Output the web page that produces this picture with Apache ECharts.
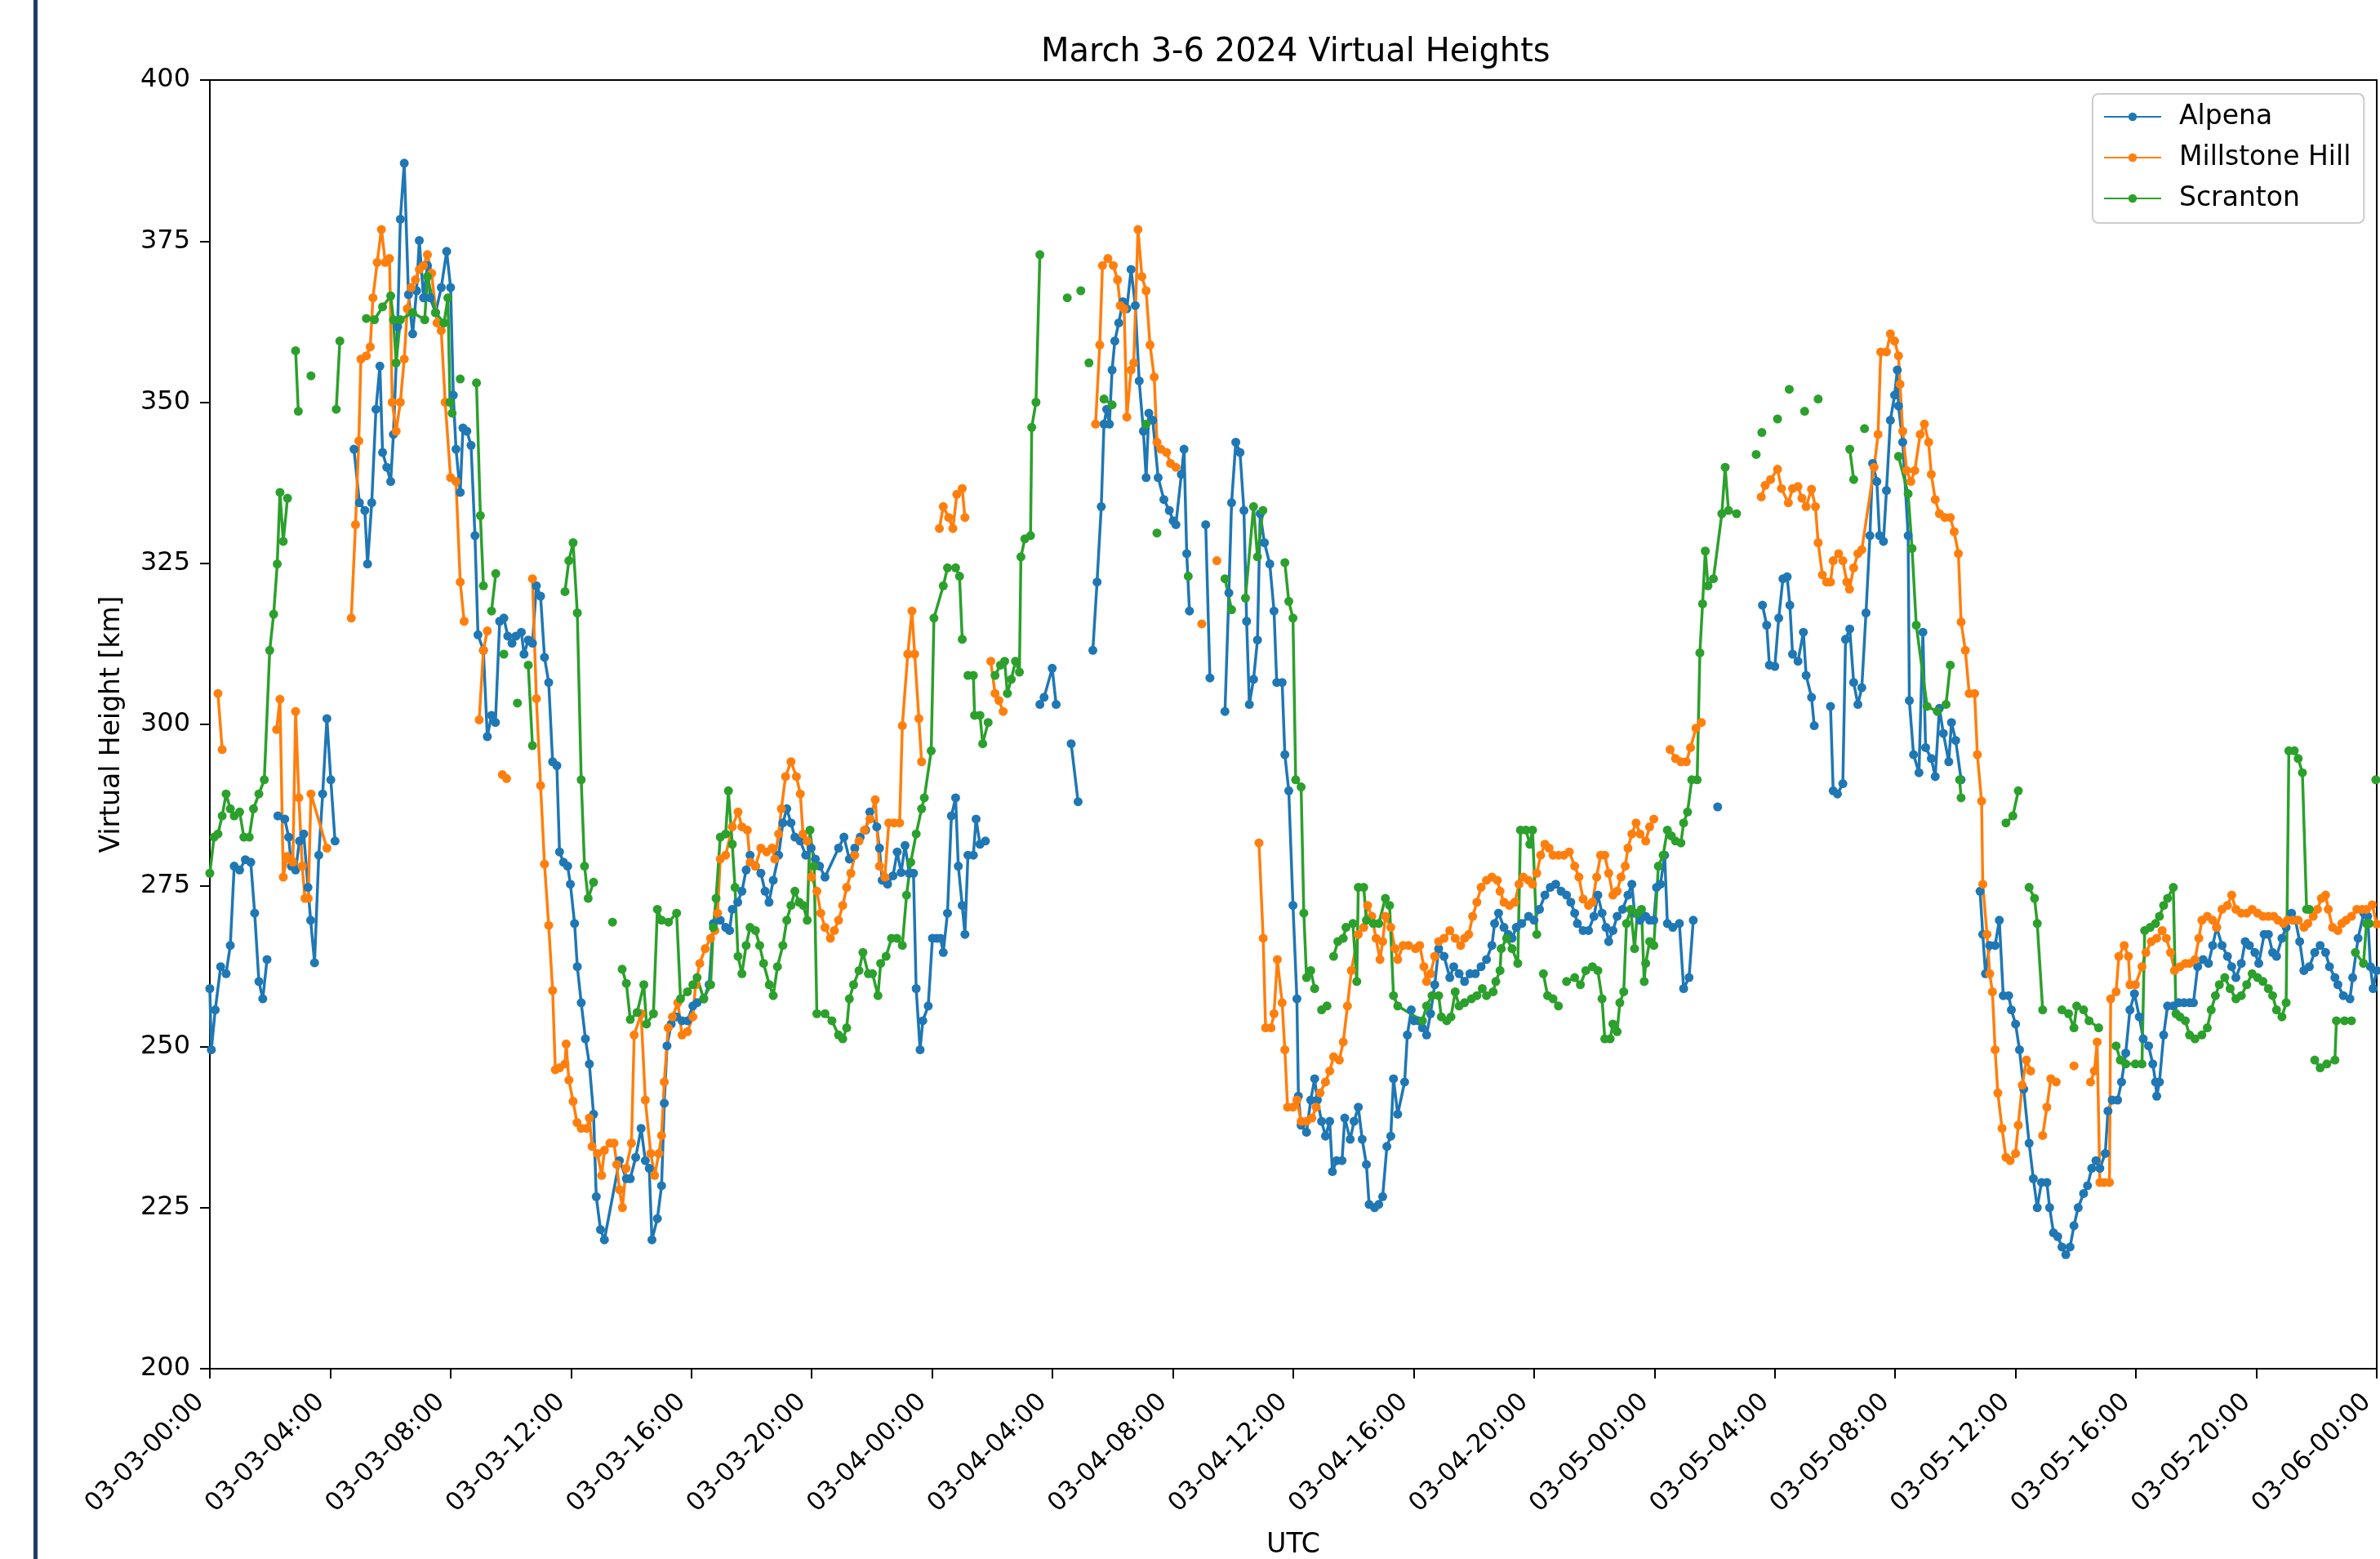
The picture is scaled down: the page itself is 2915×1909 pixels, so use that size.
<!DOCTYPE html>
<html>
<head>
<meta charset="utf-8">
<script src="https://cdn.jsdelivr.net/npm/echarts@6/dist/echarts.min.js"></script>
<style>
html,body{margin:0;padding:0;background:#fff;}
#chart{width:2915px;height:1909px;}
</style>
</head>
<body>
<div id="chart"></div>
<script>
// Hours since 2024-03-03 00:00 UTC, virtual height in km; [t, null] marks a gap
const xTickLabels = ['03-03-00:00','03-03-04:00','03-03-08:00','03-03-12:00','03-03-16:00','03-03-20:00',
  '03-04-00:00','03-04-04:00','03-04-08:00','03-04-12:00','03-04-16:00','03-04-20:00',
  '03-05-00:00','03-05-04:00','03-05-08:00','03-05-12:00','03-05-16:00','03-05-20:00','03-06-00:00'];
const yTicks = [200,225,250,275,300,325,350,375,400];
const seriesNames = ['Alpena','Millstone Hill','Scranton'];

const alpena = [[0,259],[0.05,249.5],[0.18,255.7],[0.36,262.4],[0.54,261.3],[0.68,265.7],[0.81,278],[0.99,277.4],[1.18,279],[1.36,278.6],[1.49,270.7],[1.63,260.1],[1.76,257.4],[1.9,263.5],[2.08,null],
[2.26,285.8],[2.49,285.3],[2.62,282.5],[2.71,278],[2.85,277.4],[2.98,281.9],[3.12,283],[3.26,274.7],[3.35,269.6],[3.48,263],[3.62,279.7],[3.75,289.2],[3.89,300.9],[4.02,291.4],[4.16,281.9],[4.5,null],
[4.79,342.7],[4.97,334.4],[5.15,333.2],[5.24,324.9],[5.38,334.4],[5.52,348.9],[5.65,355.6],[5.74,342.2],[5.88,339.9],[6.01,337.7],[6.1,345],[6.24,361.7],[6.33,378.4],[6.46,387.1],[6.6,366.7],[6.74,360.6],[6.87,367.3],[6.96,375.1],[7.1,366.2],[7.23,371.2],[7.32,366.2],[7.5,363.9],[7.69,367.8],[7.87,373.4],[8.0,367.8],[8.09,351.1],[8.18,342.7],[8.32,336],[8.41,346],[8.54,345.5],[8.68,343.3],[8.81,329.3],[8.91,313.9],[9.09,311.5],[9.22,298.1],[9.36,301.4],[9.49,300.3],[9.63,316],[9.77,316.5],[9.9,313.7],[10.04,312.6],[10.17,313.7],[10.35,314.3],[10.44,310.9],[10.58,313.1],[10.72,312.6],[10.85,321.5],[10.99,319.9],[11.12,310.4],[11.26,306.5],[11.39,294.2],[11.53,293.6],[11.62,280.2],[11.75,278.6],[11.89,278],[11.98,275.2],[12.12,269.1],[12.21,262.4],[12.34,256.8],[12.48,251.2],[12.61,247.3],[12.75,239.5],[12.84,226.7],[12.98,221.6],[13.11,220],[13.61,232.3],[13.84,229.5],[13.97,229.5],[14.15,232.8],[14.33,237.3],[14.47,232.3],[14.6,231.1],[14.69,220],[14.87,223.3],[15.01,228.4],[15.1,241.2],[15.19,250.1],[15.33,253.5],[15.51,254.6],[15.69,254],[15.87,254],[16.05,256.3],[16.19,256.8],[16.41,257.4],[16.59,259.6],[16.73,269.1],[16.96,269.6],[17.14,268.5],[17.27,268],[17.36,271.3],[17.54,272.4],[17.68,274.1],[17.82,277.4],[17.95,279.7],[18.13,278],[18.31,276.9],[18.45,274.1],[18.58,272.4],[18.72,275.8],[18.9,279.7],[19.04,284.7],[19.17,286.9],[19.31,284.7],[19.44,282.5],[19.62,281.9],[19.8,279.7],[19.98,280.8],[20.12,279.1],[20.26,278],[20.44,276.3],[20.89,280.8],[21.07,282.5],[21.25,279.1],[21.43,280.8],[21.61,282.5],[21.79,283.6],[21.93,286.4],[22.16,284.1],[22.25,280.8],[22.34,275.8],[22.52,275.2],[22.7,276.5],[22.84,280.2],[22.97,277],[23.1,281.2],[23.24,276.9],[23.38,276.9],[23.47,259],[23.6,249.5],[23.69,254],[23.87,256.3],[24.01,266.8],[24.15,266.8],[24.28,266.8],[24.37,264.6],[24.51,270.7],[24.64,285.8],[24.78,288.6],[24.87,278],[25.0,271.9],[25.09,267.4],[25.19,279.7],[25.37,279.7],[25.46,285.3],[25.59,281.4],[25.77,281.9],[26.5,null],
[27.58,303.1],[27.72,304.2],[27.99,308.7],[28.12,303.1],[28.4,null],[28.62,297],[28.85,288],[29.1,null],
[29.34,311.5],[29.48,322.1],[29.62,333.8],[29.71,346.6],[29.8,348.9],[29.89,346.6],[29.98,355],[30.07,359.5],[30.2,362.3],[30.34,365.6],[30.47,364.5],[30.61,370.6],[30.75,365],[30.88,353.3],[31.02,345.5],[31.11,338.3],[31.2,348.3],[31.33,347.2],[31.51,338.3],[31.7,334.9],[31.88,333.2],[32.01,331.6],[32.1,331],[32.28,338.8],[32.37,342.7],[32.46,326.5],[32.55,317.6],[32.8,null],[33.09,331],[33.23,307.2],[33.5,null],
[33.73,302],[33.86,320.4],[33.95,334.4],[34.09,343.8],[34.23,342.2],[34.36,333.2],[34.45,316],[34.54,303.1],[34.68,307],[34.81,313.1],[34.9,332.7],[35.04,328.2],[35.22,324.9],[35.36,317.6],[35.45,306.5],[35.63,306.5],[35.72,295.3],[35.85,289.7],[35.99,271.9],[36.12,257.4],[36.17,242.3],[36.26,237.8],[36.44,236.7],[36.58,241.7],[36.71,245],[36.8,241.7],[36.94,238.4],[37.07,236.1],[37.21,238.4],[37.3,230.6],[37.44,232.3],[37.62,232.3],[37.71,238.9],[37.89,235.6],[38.02,238.4],[38.16,240.6],[38.29,235.6],[38.43,231.7],[38.52,225.5],[38.7,225],[38.84,225.5],[38.97,226.7],[39.11,234.5],[39.24,236.1],[39.33,245],[39.47,239.5],[39.7,244.5],[39.79,251.8],[39.92,255.7],[40.01,254],[40.16,254],[40.29,252.9],[40.43,251.8],[40.56,255.1],[40.7,259.6],[40.83,265.2],[41.01,264],[41.2,260.7],[41.33,262.4],[41.51,261.3],[41.69,260.1],[41.87,261.3],[42.05,261.3],[42.24,262.4],[42.42,263.5],[42.6,265.7],[42.69,269.1],[42.82,270.7],[43.0,268.5],[43.14,267.4],[43.27,266.8],[43.41,268.5],[43.59,269.1],[43.82,270.2],[44.0,269.6],[44.18,271.3],[44.36,273.5],[44.54,274.7],[44.72,275.2],[44.9,274.1],[45.08,273.5],[45.22,272.4],[45.35,270.7],[45.44,269.1],[45.63,268],[45.81,268],[45.99,270.2],[46.12,273.5],[46.26,270.7],[46.39,268.5],[46.48,266.3],[46.62,268],[46.76,270.2],[46.94,271.3],[47.12,273.5],[47.25,275.2],[47.34,270.7],[47.52,269.6],[47.71,270.2],[47.84,269.6],[47.98,269.6],[48.07,274.7],[48.2,275.2],[48.34,279.7],[48.43,269.1],[48.61,268.5],[48.83,269.1],[48.97,259],[49.15,260.7],[49.29,269.6],[49.7,null],[50.1,287.2],[50.5,null],
[51.59,318.5],[51.73,315.4],[51.82,309.2],[52.0,309],[52.13,316.5],[52.27,322.6],[52.41,322.9],[52.5,318.5],[52.59,310.9],[52.77,309.8],[52.95,314.3],[53.04,307.6],[53.22,304.2],[53.31,299.8],[53.6,null],
[53.85,302.8],[53.94,289.7],[54.08,289.2],[54.26,290.8],[54.35,313.2],[54.49,314.8],[54.62,306.5],[54.76,303.1],[54.89,305.7],[55.03,317.3],[55.16,329.3],[55.25,340.5],[55.39,337.7],[55.48,329.3],[55.61,328.4],[55.71,336.3],[55.84,347.2],[55.98,351.1],[56.07,355],[56.11,349.4],[56.25,343.8],[56.43,329.3],[56.47,303.7],[56.61,295.3],[56.79,292.5],[56.92,314.3],[57.01,296.4],[57.2,294.7],[57.33,291.9],[57.47,302.5],[57.6,298.6],[57.78,294.2],[57.87,300.3],[58.01,297.5],[58.19,291.4],[58.5,null],
[58.82,274.1],[58.91,267.4],[59.0,261.3],[59.14,265.7],[59.32,265.7],[59.46,269.6],[59.59,257.9],[59.77,257.9],[59.86,255.7],[60.0,253.5],[60.13,249.5],[60.27,243.4],[60.45,235],[60.59,229.5],[60.72,225],[60.86,228.9],[61.04,228.9],[61.13,225],[61.26,221.1],[61.4,220.5],[61.54,218.9],[61.67,217.7],[61.81,218.9],[61.94,222.2],[62.08,225],[62.26,227.2],[62.39,228.4],[62.53,231.1],[62.67,232.3],[62.8,231.1],[62.98,233.4],[63.07,240],[63.21,241.7],[63.39,241.7],[63.52,244.5],[63.66,249],[63.8,255.7],[63.95,258.2],[64.11,254.6],[64.24,251.2],[64.42,250.1],[64.56,247.3],[64.65,244.5],[64.69,242.3],[64.78,244.5],[64.92,251.8],[65.05,256.3],[65.24,256.3],[65.42,256.8],[65.6,256.8],[65.78,256.8],[65.91,256.8],[66.05,262.4],[66.23,263.5],[66.41,262.9],[66.55,265.7],[66.68,268.5],[66.86,265.7],[67.04,264],[67.18,262.4],[67.32,260.7],[67.5,262.9],[67.63,266.3],[67.77,265.7],[67.95,264.6],[68.08,262.9],[68.26,267.4],[68.4,267.4],[68.54,264.6],[68.67,264],[68.85,266.8],[68.99,268.5],[69.17,270.7],[69.3,269.6],[69.44,266.3],[69.58,261.8],[69.76,262.4],[69.94,264.6],[70.12,265.7],[70.3,264.6],[70.43,262.4],[70.61,260.7],[70.71,259.6],[70.89,257.9],[71.11,257.4],[71.2,260.7],[71.38,266.8],[71.57,270.7],[71.7,270.2],[71.79,262.4],[71.88,259],[72,261.8]];

const millstone = [[0.27,304.8],[0.41,296.1],[1.2,null],
[2.22,299.2],[2.33,303.9],[2.44,276.3],[2.56,279.5],[2.69,279],[2.76,278.6],[2.85,302],[2.96,288.6],[3.07,278],[3.16,273],[3.27,273],[3.36,289.2],[3.89,280.8],[4.3,null],
[4.7,316.5],[4.84,331],[4.95,344],[5.02,356.7],[5.2,357.2],[5.33,358.6],[5.42,366.2],[5.56,371.7],[5.7,376.8],[5.83,371.7],[5.97,372.3],[6.06,350],[6.19,345.5],[6.33,350],[6.46,356.7],[6.56,364.5],[6.69,367.8],[6.83,369],[6.96,370.6],[7.1,371.2],[7.23,372.9],[7.37,370],[7.55,362.3],[7.69,361.1],[7.82,350],[8.0,338.3],[8.18,337.7],[8.32,322.1],[8.45,316],[8.7,null],
[8.95,300.7],[9.09,311.5],[9.22,314.5],[9.45,null],[9.72,292.2],[9.86,291.6],[10.3,null],
[10.72,322.6],[10.85,304],[10.99,290.5],[11.12,278.3],[11.26,268.8],[11.39,258.7],[11.48,246.4],[11.62,246.7],[11.8,247.3],[11.84,250.4],[11.93,244.8],[12.07,241.5],[12.2,238.2],[12.34,237.3],[12.52,237.3],[12.61,238.9],[12.7,234.5],[12.88,233.4],[13.02,230],[13.11,233.9],[13.29,235],[13.43,235],[13.52,231.7],[13.61,227.8],[13.71,225],[13.83,231.1],[14.01,235],[14.1,251.8],[14.33,255.1],[14.47,241.7],[14.65,233.4],[14.78,230],[14.92,233.4],[15.01,236.2],[15.1,244.5],[15.23,252.9],[15.37,254.6],[15.55,256.8],[15.69,251.8],[15.87,252.3],[16.05,254.6],[16.14,259.6],[16.28,262.9],[16.46,265.2],[16.64,266.8],[16.78,268],[16.87,270.7],[16.96,279.1],[17.14,279.7],[17.36,284.1],[17.55,286.4],[17.68,284.1],[17.86,283.6],[17.95,278.6],[18.13,278],[18.31,280.8],[18.5,280.2],[18.68,280.8],[18.77,279.1],[18.9,283],[18.99,286.9],[19.13,291.9],[19.31,294.2],[19.49,291.9],[19.62,289.2],[19.71,283],[19.85,281.9],[19.99,276.3],[20.17,274.1],[20.3,270.7],[20.44,268.5],[20.62,266.8],[20.75,268],[20.89,269.6],[21.03,271.9],[21.16,274.7],[21.3,276.9],[21.43,279.7],[21.57,281.9],[21.75,283.6],[21.93,285.3],[22.11,288.3],[22.25,278],[22.43,276.3],[22.56,284.7],[22.74,284.7],[22.92,284.7],[23.01,299.8],[23.19,310.9],[23.33,317.6],[23.42,310.9],[23.56,300.9],[23.65,294.2],[23.9,null],
[24.24,330.4],[24.37,333.8],[24.55,332.1],[24.69,330.4],[24.82,335.7],[25.0,336.6],[25.09,332.1],[25.5,null],
[25.95,309.8],[26.09,304.8],[26.22,303.7],[26.36,302],[27.5,null],
[29.43,346.6],[29.57,358.9],[29.66,371.2],[29.84,372.3],[30.02,371.2],[30.16,369],[30.25,365],[30.38,364.5],[30.47,347.7],[30.61,355],[30.7,356.1],[30.84,376.8],[30.97,369.5],[31.11,367.3],[31.24,358.9],[31.38,353.9],[31.47,343.8],[31.6,342.7],[31.79,342.2],[31.92,340.5],[32.1,339.9],[32.5,null],
[32.96,315.6],[33.2,null],[33.46,325.4],[34.2,null],
[34.86,281.6],[35.0,266.8],[35.08,252.9],[35.26,252.9],[35.36,255.1],[35.47,263.5],[35.63,256.8],[35.72,249.5],[35.81,240.6],[35.99,240.6],[36.12,241.7],[36.26,238.4],[36.44,238.4],[36.62,238.9],[36.76,240.6],[36.89,242.8],[37.07,244.5],[37.21,246.2],[37.34,248.4],[37.53,247.9],[37.66,250.7],[37.8,256.3],[37.93,261.8],[38.16,267.4],[38.34,268.5],[38.47,271.9],[38.61,270.2],[38.75,266.8],[38.88,263.5],[38.97,266.3],[39.06,270.2],[39.24,268.5],[39.38,265.2],[39.47,263.5],[39.65,265.7],[39.83,265.7],[40.06,265.2],[40.2,265.7],[40.34,262.4],[40.43,260.1],[40.56,261.3],[40.7,264],[40.83,266.3],[41.01,266.8],[41.2,268],[41.38,266.8],[41.56,265.7],[41.69,266.8],[41.83,267.4],[41.96,270.2],[42.1,272.4],[42.24,274.7],[42.42,275.8],[42.6,276.3],[42.78,275.8],[42.87,274.1],[43.0,272.4],[43.18,271.9],[43.36,272.4],[43.5,275.2],[43.64,276.3],[43.82,275.8],[43.95,275.2],[44.09,276.9],[44.22,279.7],[44.36,281.4],[44.5,280.8],[44.63,279.7],[44.81,279.7],[44.99,279.7],[45.17,280.2],[45.35,278],[45.49,276.3],[45.63,272.9],[45.81,271.9],[45.94,272.4],[46.08,276.3],[46.21,279.7],[46.35,279.7],[46.48,276.9],[46.62,273.5],[46.76,274.1],[46.89,276.3],[47.03,278],[47.12,280.8],[47.25,283],[47.39,284.7],[47.52,283],[47.71,281.9],[47.84,284.1],[47.98,285.3],[48.25,null],
[48.52,296.1],[48.7,294.7],[48.88,294.2],[49.06,294.2],[49.2,296.4],[49.38,299.4],[49.56,300.3],[50.5,null],
[51.55,335.3],[51.68,337.1],[51.86,338],[52.09,339.6],[52.22,336.6],[52.45,334.4],[52.59,336.6],[52.77,336.9],[52.9,335.1],[53.04,333.8],[53.22,336.5],[53.35,333.8],[53.44,328.2],[53.58,323.2],[53.72,322.1],[53.85,322.1],[53.94,325.4],[54.12,326.5],[54.26,325.4],[54.39,322.1],[54.48,321],[54.62,324.3],[54.76,326.5],[54.89,327.1],[55.3,339.9],[55.43,345],[55.52,357.8],[55.71,357.8],[55.84,360.6],[55.98,359.5],[56.11,357.2],[56.16,352.8],[56.25,345.5],[56.38,339.4],[56.52,337.7],[56.65,339.4],[56.83,345],[56.97,346.6],[57.11,343.8],[57.2,338.8],[57.33,334.9],[57.47,332.7],[57.65,332.1],[57.83,332.1],[57.96,329.9],[58.1,326.5],[58.19,315.9],[58.33,311.5],[58.46,304.8],[58.64,304.8],[58.73,295.3],[58.87,288.1],[58.91,275.2],[59.05,267.4],[59.14,261.3],[59.23,258.5],[59.32,249.5],[59.41,242.8],[59.55,237.3],[59.68,232.8],[59.82,232.3],[60.0,233.4],[60.09,237.8],[60.22,244],[60.36,247.9],[60.5,246.2],[60.7,null],
[60.9,236.2],[61.04,240.6],[61.17,245],[61.35,244.5],[61.6,null],[61.94,247],[62.2,null],
[62.49,244.5],[62.62,246.2],[62.71,250.7],[62.8,228.9],[62.94,228.9],[63.12,228.9],[63.16,257.4],[63.34,258.5],[63.43,264],[63.61,265.7],[63.75,264],[63.8,259.6],[63.98,259.6],[64.2,262.4],[64.33,264.6],[64.51,266.3],[64.69,266.8],[64.87,268],[65.01,266.8],[65.15,264.6],[65.28,261.8],[65.46,262.4],[65.64,262.9],[65.78,262.9],[65.96,263.5],[66.09,266.8],[66.19,269.6],[66.37,270.2],[66.55,269.6],[66.68,268.5],[66.86,271.3],[67.04,271.9],[67.18,273.5],[67.32,271.3],[67.5,270.7],[67.68,270.7],[67.86,271.3],[68.04,270.7],[68.22,270.2],[68.4,270.2],[68.58,270.2],[68.72,269.6],[68.9,269.1],[69.03,269.6],[69.21,269.6],[69.39,269.6],[69.58,268.5],[69.71,269.1],[69.89,270.2],[70.03,271.3],[70.16,273],[70.3,273.5],[70.39,271.3],[70.53,268.5],[70.71,268],[70.84,269.1],[70.98,269.6],[71.16,270.2],[71.34,271.3],[71.52,271.3],[71.66,271.3],[71.85,272],[72,269]];

const scranton = [[0,276.9],[0.14,282.5],[0.27,283],[0.41,285.8],[0.54,289.2],[0.68,286.9],[0.81,285.8],[0.99,286.4],[1.13,282.5],[1.31,282.5],[1.45,286.9],[1.63,289.2],[1.81,291.4],[1.99,311.5],[2.12,317.1],[2.24,324.9],[2.33,336],[2.44,328.4],[2.58,335.1],[2.7,null],
[2.85,358],[2.94,348.6],[3.1,null],[3.36,354.1],[3.8,null],[4.2,348.9],[4.32,359.5],[4.7,null],
[5.2,363],[5.47,362.8],[5.74,364.8],[6.01,366.5],[6.1,362.8],[6.19,356.1],[6.33,362.8],[6.74,363.9],[7.14,362.8],[7.23,369.5],[7.5,363.9],[7.78,362.3],[7.91,366.2],[7.98,350],[8.05,348.3],[8.2,null],
[8.32,353.6],[8.6,null],[8.86,353],[8.99,332.4],[9.09,321.5],[9.2,null],[9.36,317.6],[9.5,323.4],[9.6,null],[9.77,310.9],[10.0,null],[10.22,303.3],[10.4,null],[10.58,309.2],[10.72,296.7],[11.2,null],
[11.8,320.6],[11.93,325.4],[12.07,328.2],[12.21,317.3],[12.34,291.4],[12.45,278],[12.57,273],[12.75,275.5],[13.0,null],[13.38,269.3],[13.5,null],
[13.7,262],[13.84,259.8],[13.97,254.2],[14.2,255.3],[14.42,259.6],[14.51,253.5],[14.74,255.1],[14.87,271.3],[15.01,269.6],[15.24,269.3],[15.51,270.7],[15.64,257.4],[15.87,258.5],[16.05,259.6],[16.19,260.7],[16.41,257.4],[16.64,259.6],[16.73,268.5],[16.82,273],[16.96,282.5],[17.14,283],[17.23,289.7],[17.36,281.4],[17.45,274.7],[17.55,264],[17.68,261.3],[17.82,265.7],[17.95,268.5],[18.13,268],[18.27,265.7],[18.4,262.9],[18.59,259.6],[18.72,257.9],[18.86,262.4],[19.04,265.7],[19.17,269.6],[19.31,271.9],[19.44,274.1],[19.58,272.4],[19.72,271.9],[19.85,269.6],[19.94,283.6],[20.08,278],[20.17,255.1],[20.44,255.1],[20.67,254],[20.89,251.8],[21.03,251.2],[21.16,252.9],[21.25,257.4],[21.39,259.6],[21.57,261.8],[21.7,264.6],[21.88,261.3],[22.02,261.3],[22.2,257.9],[22.29,262.9],[22.47,264],[22.65,266.8],[22.83,266.8],[23.01,265.7],[23.15,273.5],[23.29,278.6],[23.47,283],[23.65,286.9],[23.74,288.6],[23.97,295.9],[24.06,316.5],[24.37,321.5],[24.51,324.3],[24.78,324.3],[24.91,323],[25.0,313.2],[25.1,null],
[25.19,307.6],[25.37,307.6],[25.41,301.4],[25.59,301.4],[25.68,297],[25.86,300.3],[25.97,null],
[26.09,307.6],[26.27,309.2],[26.41,309.8],[26.5,304.8],[26.63,307],[26.77,309.8],[26.9,308.1],[26.95,326],[27.08,328.8],[27.27,329.3],[27.31,346.1],[27.45,350],[27.58,372.9],[28.0,null],
[28.49,366.2],[28.7,null],[28.94,367.3],[29.1,null],[29.21,356.1],[29.5,null],[29.71,350.5],[29.98,349.6],[30.5,null],[31.11,346.6],[31.3,null],[31.47,329.7],[32.0,null],[32.51,323],[33.0,null],
[33.73,322.6],[33.95,317.8],[34.2,null],[34.41,319.6],[34.68,333.8],[34.81,326],[34.99,333.2],[35.3,null],
[35.72,325.1],[35.85,319.1],[35.99,316.5],[36.08,291.4],[36.26,290.3],[36.35,270.7],[36.44,260.7],[36.58,261.8],[36.71,259],[36.85,null],[36.94,255.7],[37.12,256.3],[37.2,null],
[37.34,264],[37.48,266.3],[37.66,266.8],[37.75,268.5],[37.98,269.1],[38.11,260.1],[38.16,274.7],[38.34,274.7],[38.43,269.6],[38.66,269.1],[38.84,269.1],[39.06,273],[39.2,271.9],[39.33,257.9],[39.47,256.3],[40.29,254],[40.43,256.3],[40.61,257.9],[40.83,257.9],[40.92,254.6],[41.1,254],[41.24,254.6],[41.38,258.5],[41.51,256.3],[41.69,256.8],[41.92,257.4],[42.1,257.9],[42.28,259],[42.42,257.9],[42.64,258.5],[42.73,260.1],[42.87,261.8],[42.91,265.2],[43.09,266.8],[43.27,265.2],[43.46,262.9],[43.55,283.6],[43.73,283.6],[43.86,281.4],[43.95,283.6],[44.09,267.4],[44.2,null],
[44.31,261.3],[44.45,257.9],[44.63,257.4],[44.81,256.3],[44.95,null],
[45.08,260.1],[45.35,260.7],[45.54,259.6],[45.72,261.8],[45.94,262.4],[46.12,261.8],[46.26,257.4],[46.35,251.2],[46.53,251.2],[46.62,253.5],[46.76,252.3],[46.85,256.8],[46.98,258.5],[47.07,269.1],[47.21,271.3],[47.34,265.2],[47.43,270.7],[47.57,271.3],[47.66,260.1],[47.71,262.9],[47.84,266.3],[47.98,265.7],[48.13,278],[48.29,279.7],[48.43,283.6],[48.56,282.7],[48.7,281.9],[48.88,281.6],[48.97,284.7],[49.1,286.4],[49.24,291.4],[49.42,291.4],[49.51,311.1],[49.6,318.7],[49.69,326.9],[49.78,321.5],[49.96,322.6],[50.24,332.7],[50.35,339.9],[50.46,333.2],[50.73,332.7],[51.0,null],
[51.38,341.9],[51.48,null],[51.57,345.3],[51.8,null],[52.09,347.4],[52.3,null],[52.48,352],[52.7,null],[52.99,348.6],[53.2,null],[53.44,350.5],[54.0,null],[54.49,342.7],[54.62,338],[54.8,null],[54.98,345.9],[55.5,null],
[56.11,341.6],[56.43,335.8],[56.56,327.3],[56.7,315.4],[57.06,302.8],[57.4,302],[57.69,303.1],[57.83,309.2],[58.0,null],[58.14,291.4],[58.19,288.6],[59.0,null],
[59.68,284.7],[59.91,285.8],[60.09,289.7],[60.25,null],[60.45,274.7],[60.63,273],[60.72,269.1],[60.9,255.7],[61.2,null],
[61.54,255.7],[61.76,255.1],[61.94,252.9],[62.03,256.3],[62.26,255.7],[62.44,254],[62.76,252.9],[63.0,null],
[63.34,250.1],[63.48,247.9],[63.66,247.3],[63.98,247.3],[64.2,247.3],[64.29,268],[64.47,268.5],[64.65,269.1],[64.78,270.2],[64.92,271.9],[65.05,273],[65.24,274.7],[65.33,255.1],[65.46,254.6],[65.64,254],[65.78,251.8],[65.96,251.2],[66.19,251.8],[66.37,252.9],[66.5,255.7],[66.64,257.9],[66.77,259.6],[66.95,260.7],[67.13,259],[67.32,257.4],[67.5,257.9],[67.68,259.6],[67.86,261.3],[68.04,260.7],[68.22,260.1],[68.4,259],[68.54,257.9],[68.67,255.7],[68.85,254.6],[68.99,256.8],[69.08,295.9],[69.26,295.9],[69.39,294.7],[69.53,292.5],[69.67,271.3],[69.76,271.3],[69.85,null],
[69.94,247.9],[70.12,246.7],[70.34,247.3],[70.61,247.9],[70.66,254],[70.93,254],[71.16,254],[71.22,null],
[71.29,264.6],[71.56,262.9],[71.66,269.1],[71.75,269.1],[71.85,null],[71.97,291.4]];

const colors = ['#1f77b4','#ff7f0e','#2ca02c'];
const FONT = 'DejaVu Sans';

const chart = echarts.init(document.getElementById('chart'), null, {renderer:'canvas'});

function mkSeries(name, data, color){
  return {
    name: name, type: 'line', data: data,
    symbol: 'circle', symbolSize: 11, showSymbol: true, showAllSymbol: true,
    connectNulls: false, clip: true,
    itemStyle: {color: color},
    lineStyle: {color: color, width: 3.5},
    emphasis: {disabled: true},
    animation: false
  };
}

chart.setOption({
  animation: false,
  backgroundColor: '#ffffff',
  title: {
    text: 'March 3-6 2024 Virtual Heights',
    left: 1275, top: 45, padding: 0,
    textStyle: {fontFamily: FONT, fontSize: 40, fontWeight: 'normal', color: '#000'}
  },
  legend: {
    data: seriesNames,
    orient: 'vertical',
    left: 2563, top: 115,
    padding: [11, 16, 13, 13],
    itemWidth: 70, itemHeight: 13, itemGap: 16,
    backgroundColor: 'rgba(255,255,255,0.8)',
    borderColor: '#cccccc', borderWidth: 2, borderRadius: 7,
    textStyle: {fontFamily: FONT, fontSize: 33, color: '#000', lineHeight: 34, padding: [0,0,0,17]}
  },
  grid: {
    left: 257, right: 4, top: 98, bottom: 233,
    outerBoundsMode: 'none', containLabel: false,
    show: true, borderColor: '#000', borderWidth: 2, backgroundColor: 'transparent'
  },
  xAxis: {
    type: 'value', min: 0, max: 72, interval: 4,
    name: 'UTC', nameLocation: 'middle', nameGap: 200,
    nameTextStyle: {fontFamily: FONT, fontSize: 33, color: '#000'},
    axisLine: {show: false},
    axisTick: {show: true, inside: false, length: 12, lineStyle: {color: '#000', width: 2}},
    splitLine: {show: false},
    axisLabel: {
      rotate: 45, margin: 24, padding: [0, 17, 0, 0],
      fontFamily: FONT, fontSize: 31, color: '#000',
      formatter: function(v){ return xTickLabels[Math.round(v/4)]; }
    }
  },
  yAxis: {
    type: 'value', min: yTicks[0], max: yTicks[yTicks.length-1], interval: 25,
    name: 'Virtual Height [km]', nameLocation: 'middle', nameGap: 103, nameRotate: 90,
    nameTextStyle: {fontFamily: FONT, fontSize: 33, color: '#000'},
    axisLine: {show: false},
    axisTick: {show: true, inside: false, length: 12, lineStyle: {color: '#000', width: 2}},
    splitLine: {show: false},
    axisLabel: {margin: 24, fontFamily: FONT, fontSize: 32, color: '#000'}
  },
  graphic: [{
    type: 'rect', left: 41, top: 0, z: 100,
    shape: {width: 5, height: 1909},
    style: {fill: '#223d5e'}
  }],
  series: [
    mkSeries(seriesNames[0], alpena, colors[0]),
    mkSeries(seriesNames[1], millstone, colors[1]),
    mkSeries(seriesNames[2], scranton, colors[2])
  ]
});
</script>
</body>
</html>
